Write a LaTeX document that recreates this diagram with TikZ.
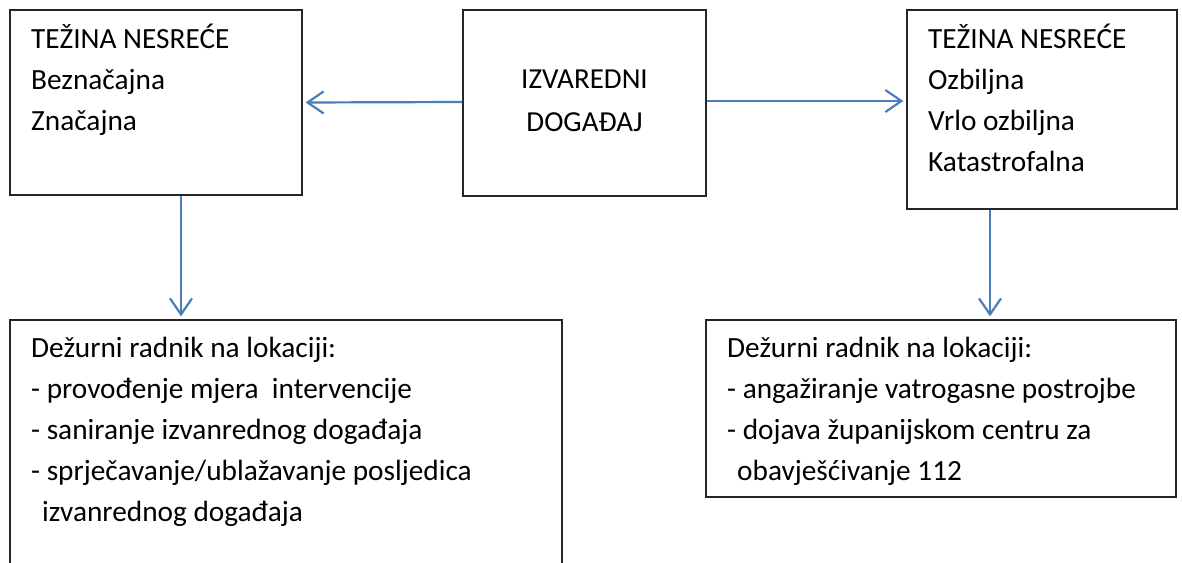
\documentclass[tikz,border=0pt]{standalone}
\usepackage{fontspec}
\setmainfont{Carlito}
\usetikzlibrary{arrows.meta}
\definecolor{arrowblue}{HTML}{4A7EBB}
\begin{document}
\begin{tikzpicture}[x=1pt,y=-1pt,
  box/.style={draw=black!85, line width=1.3pt, rectangle, inner sep=0pt},
  arr/.style={draw=arrowblue, line width=2.2pt, shorten >=3pt,
    -{Straight Barb[length=16pt,width=22pt,line width=2.2pt]}},
  txt/.style={font=\fontsize{29.3}{41}\selectfont, align=left, inner sep=0pt, anchor=base west},
  ctxt/.style={font=\fontsize{29}{43}\selectfont, align=center, inner sep=0pt, anchor=base}]
\useasboundingbox (0,0) rectangle (1182,562);
\node[box, minimum width=292pt, minimum height=185pt] (tl) at (156,102.5) {};
\node[box, minimum width=243pt, minimum height=186pt] (mid) at (584.5,103) {};
\node[box, minimum width=270pt, minimum height=199pt] (tr) at (1042,109.5) {};
\node[box, minimum width=552pt, minimum height=260pt] (bl) at (286,450) {};
\node[box, minimum width=470pt, minimum height=177pt] (br) at (941,408.5) {};

% anchor = baseline of the last line
\node[txt] (tltext) at (31,130) {TEŽINA NESREĆE\\Beznačajna\\Značajna};
\node[ctxt] (midtext) at (584.5,131) {IZVAREDNI\\DOGAĐAJ};
\node[txt] (trtext) at (928,171) {TEŽINA NESREĆE\\Ozbiljna\\Vrlo ozbiljna\\Katastrofalna};
\node[txt] (bltext) at (31,521) {Dežurni radnik na lokaciji:\\- provođenje mjera\ \ intervencije\\- saniranje izvanrednog događaja\\- sprječavanje/ublažavanje posljedica\\\hspace*{11pt}izvanrednog događaja};
\node[txt] (brtext) at (727,480) {Dežurni radnik na lokaciji:\\- angažiranje vatrogasne postrojbe\\- dojava županijskom centru za\\\hspace*{10pt}obavješćivanje 112};

\draw[arr] ([yshift=1pt]mid.west) -- ([yshift=0pt]tl.east);
\draw[arr] ([yshift=2pt]mid.east) -- ([yshift=8.5pt]tr.west);
\draw[arr] ([xshift=25pt]tl.south) -- ([xshift=25pt]tl.south |- bl.north);
\draw[arr] ([xshift=-52pt]tr.south) -- ([xshift=-52pt]tr.south |- br.north);
\end{tikzpicture}
\end{document}
